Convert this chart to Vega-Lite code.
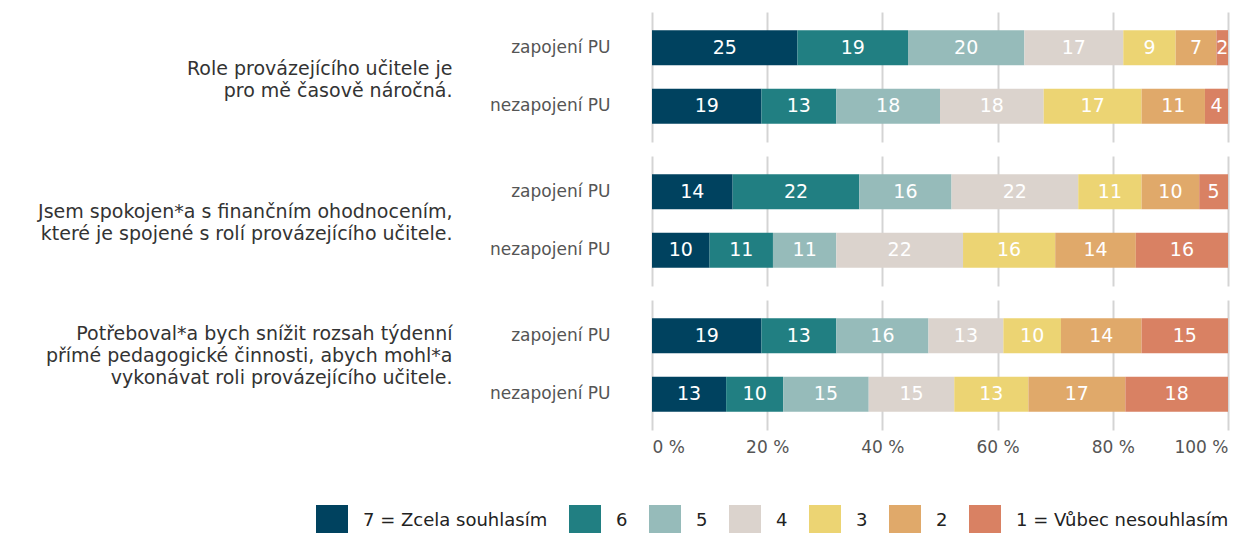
{
  "$schema": "https://vega.github.io/schema/vega-lite/v6.json",
  "background": "white",
  "padding": {"left": 37, "top": 12, "right": 30, "bottom": 0},
  "datasets": {
    "answers": [
      {"q": 1, "group": "zapojení PU", "code": 7, "level": "7 = Zcela souhlasím", "value": 25},
      {"q": 1, "group": "zapojení PU", "code": 6, "level": "6", "value": 19},
      {"q": 1, "group": "zapojení PU", "code": 5, "level": "5", "value": 20},
      {"q": 1, "group": "zapojení PU", "code": 4, "level": "4", "value": 17},
      {"q": 1, "group": "zapojení PU", "code": 3, "level": "3", "value": 9},
      {"q": 1, "group": "zapojení PU", "code": 2, "level": "2", "value": 7},
      {"q": 1, "group": "zapojení PU", "code": 1, "level": "1 = Vůbec nesouhlasím", "value": 2},
      {"q": 1, "group": "nezapojení PU", "code": 7, "level": "7 = Zcela souhlasím", "value": 19},
      {"q": 1, "group": "nezapojení PU", "code": 6, "level": "6", "value": 13},
      {"q": 1, "group": "nezapojení PU", "code": 5, "level": "5", "value": 18},
      {"q": 1, "group": "nezapojení PU", "code": 4, "level": "4", "value": 18},
      {"q": 1, "group": "nezapojení PU", "code": 3, "level": "3", "value": 17},
      {"q": 1, "group": "nezapojení PU", "code": 2, "level": "2", "value": 11},
      {"q": 1, "group": "nezapojení PU", "code": 1, "level": "1 = Vůbec nesouhlasím", "value": 4},
      {"q": 2, "group": "zapojení PU", "code": 7, "level": "7 = Zcela souhlasím", "value": 14},
      {"q": 2, "group": "zapojení PU", "code": 6, "level": "6", "value": 22},
      {"q": 2, "group": "zapojení PU", "code": 5, "level": "5", "value": 16},
      {"q": 2, "group": "zapojení PU", "code": 4, "level": "4", "value": 22},
      {"q": 2, "group": "zapojení PU", "code": 3, "level": "3", "value": 11},
      {"q": 2, "group": "zapojení PU", "code": 2, "level": "2", "value": 10},
      {"q": 2, "group": "zapojení PU", "code": 1, "level": "1 = Vůbec nesouhlasím", "value": 5},
      {"q": 2, "group": "nezapojení PU", "code": 7, "level": "7 = Zcela souhlasím", "value": 10},
      {"q": 2, "group": "nezapojení PU", "code": 6, "level": "6", "value": 11},
      {"q": 2, "group": "nezapojení PU", "code": 5, "level": "5", "value": 11},
      {"q": 2, "group": "nezapojení PU", "code": 4, "level": "4", "value": 22},
      {"q": 2, "group": "nezapojení PU", "code": 3, "level": "3", "value": 16},
      {"q": 2, "group": "nezapojení PU", "code": 2, "level": "2", "value": 14},
      {"q": 2, "group": "nezapojení PU", "code": 1, "level": "1 = Vůbec nesouhlasím", "value": 16},
      {"q": 3, "group": "zapojení PU", "code": 7, "level": "7 = Zcela souhlasím", "value": 19},
      {"q": 3, "group": "zapojení PU", "code": 6, "level": "6", "value": 13},
      {"q": 3, "group": "zapojení PU", "code": 5, "level": "5", "value": 16},
      {"q": 3, "group": "zapojení PU", "code": 4, "level": "4", "value": 13},
      {"q": 3, "group": "zapojení PU", "code": 3, "level": "3", "value": 10},
      {"q": 3, "group": "zapojení PU", "code": 2, "level": "2", "value": 14},
      {"q": 3, "group": "zapojení PU", "code": 1, "level": "1 = Vůbec nesouhlasím", "value": 15},
      {"q": 3, "group": "nezapojení PU", "code": 7, "level": "7 = Zcela souhlasím", "value": 13},
      {"q": 3, "group": "nezapojení PU", "code": 6, "level": "6", "value": 10},
      {"q": 3, "group": "nezapojení PU", "code": 5, "level": "5", "value": 15},
      {"q": 3, "group": "nezapojení PU", "code": 4, "level": "4", "value": 15},
      {"q": 3, "group": "nezapojení PU", "code": 3, "level": "3", "value": 13},
      {"q": 3, "group": "nezapojení PU", "code": 2, "level": "2", "value": 17},
      {"q": 3, "group": "nezapojení PU", "code": 1, "level": "1 = Vůbec nesouhlasím", "value": 18}
    ]
  },
  "data": {"name": "answers"},
  "spacing": 14,
  "vconcat": [
    {
      "width": 576,
      "height": 130,
      "transform": [{"filter": "datum.q == 1"}],
      "encoding": {
        "y": {
          "field": "group", "type": "nominal", "sort": ["zapojení PU", "nezapojení PU"],
          "scale": {"paddingInner": 0.4, "paddingOuter": 0.31},
          "axis": {"title": ["Role provázejícího učitele je", "pro mě časově náročná."], "titleY": 56}
        },
        "x": {
          "field": "value", "type": "quantitative", "stack": "normalize", "title": null,
          "scale": {"domain": [0, 1]},
          "axis": {"labels": false, "values": [0, 0.2, 0.4, 0.6, 0.8, 1]}
        },
        "order": {"field": "code", "type": "quantitative", "sort": "descending"}
      },
      "layer": [
        {"mark": {"type": "bar"}, "encoding": {"color": {"field": "level", "type": "nominal", "scale": {"domain": ["7 = Zcela souhlasím", "6", "5", "4", "3", "2", "1 = Vůbec nesouhlasím"], "range": ["#00425f", "#217f82", "#96bbba", "#dbd3cd", "#ecd473", "#e0a96a", "#d98163"]}}}},
        {
          "mark": {"type": "text"},
          "encoding": {
            "x": {"field": "value", "type": "quantitative", "stack": "normalize", "bandPosition": 0.5},
            "detail": {"field": "level"},
            "text": {"field": "value", "type": "quantitative"}
          }
        }
      ]
    },
    {
      "width": 576,
      "height": 130,
      "transform": [{"filter": "datum.q == 2"}],
      "encoding": {
        "y": {
          "field": "group", "type": "nominal", "sort": ["zapojení PU", "nezapojení PU"],
          "scale": {"paddingInner": 0.4, "paddingOuter": 0.31},
          "axis": {"title": ["Jsem spokojen*a s finančním ohodnocením,", "které je spojené s rolí provázejícího učitele."], "titleY": 55}
        },
        "x": {
          "field": "value", "type": "quantitative", "stack": "normalize", "title": null,
          "scale": {"domain": [0, 1]},
          "axis": {"labels": false, "values": [0, 0.2, 0.4, 0.6, 0.8, 1]}
        },
        "order": {"field": "code", "type": "quantitative", "sort": "descending"}
      },
      "layer": [
        {"mark": {"type": "bar"}, "encoding": {"color": {"field": "level", "type": "nominal", "scale": {"domain": ["7 = Zcela souhlasím", "6", "5", "4", "3", "2", "1 = Vůbec nesouhlasím"], "range": ["#00425f", "#217f82", "#96bbba", "#dbd3cd", "#ecd473", "#e0a96a", "#d98163"]}}}},
        {
          "mark": {"type": "text"},
          "encoding": {
            "x": {"field": "value", "type": "quantitative", "stack": "normalize", "bandPosition": 0.5},
            "detail": {"field": "level"},
            "text": {"field": "value", "type": "quantitative"}
          }
        }
      ]
    },
    {
      "width": 576,
      "height": 130,
      "transform": [{"filter": "datum.q == 3"}],
      "encoding": {
        "y": {
          "field": "group", "type": "nominal", "sort": ["zapojení PU", "nezapojení PU"],
          "scale": {"paddingInner": 0.4, "paddingOuter": 0.31},
          "axis": {"title": ["Potřeboval*a bych snížit rozsah týdenní", "přímé pedagogické činnosti, abych mohl*a", "vykonávat roli provázejícího učitele."], "titleY": 33}
        },
        "x": {
          "field": "value", "type": "quantitative", "stack": "normalize", "title": null,
          "scale": {"domain": [0, 1]},
          "axis": {"labels": true, "values": [0, 0.2, 0.4, 0.6, 0.8, 1]}
        },
        "order": {"field": "code", "type": "quantitative", "sort": "descending"}
      },
      "layer": [
        {"mark": {"type": "bar"}, "encoding": {"color": {"field": "level", "type": "nominal", "scale": {"domain": ["7 = Zcela souhlasím", "6", "5", "4", "3", "2", "1 = Vůbec nesouhlasím"], "range": ["#00425f", "#217f82", "#96bbba", "#dbd3cd", "#ecd473", "#e0a96a", "#d98163"]}}}},
        {
          "mark": {"type": "text"},
          "encoding": {
            "x": {"field": "value", "type": "quantitative", "stack": "normalize", "bandPosition": 0.5},
            "detail": {"field": "level"},
            "text": {"field": "value", "type": "quantitative"}
          }
        }
      ]
    }
  ],
  "resolve": {"scale": {"color": "shared"}},
  "config": {
    "view": {"stroke": null},
    "font": "DejaVu Sans",
    "text": {"color": "white", "fontSize": 19, "baseline": "middle", "align": "center", "font": "DejaVu Sans"},
    "axisY": {
      "domain": false,
      "ticks": false,
      "grid": false,
      "labelPadding": 42,
      "labelFont": "DejaVu Sans",
      "labelFontSize": 17,
      "labelColor": "#555555",
      "titleAngle": 0,
      "titleAlign": "right",
      "titleBaseline": "middle",
      "titleX": -200,
      "titleFont": "DejaVu Sans",
      "titleFontSize": 19,
      "titleFontWeight": "normal",
      "titleColor": "#333333",
      "titleLineHeight": 22
    },
    "axisX": {
      "labelExpr": "format(datum.value * 100, 'd') + ' %'",
      "domain": false,
      "ticks": false,
      "grid": true,
      "gridColor": "#d4d4d4",
      "gridWidth": 2,
      "labelPadding": 9,
      "labelFont": "DejaVu Sans",
      "labelFontSize": 17,
      "labelColor": "#555555"
    },
    "legend": {
      "title": null,
      "orient": "none",
      "direction": "horizontal",
      "legendX": -336,
      "legendY": 493,
      "symbolType": "square",
      "symbolSize": 1024,
      "symbolStrokeWidth": 0,
      "symbolOpacity": 1,
      "labelFont": "DejaVu Sans",
      "labelFontSize": 18,
      "labelColor": "#222222",
      "labelOffset": 15,
      "columnPadding": 21,
      "labelLimit": 400
    }
  }
}
